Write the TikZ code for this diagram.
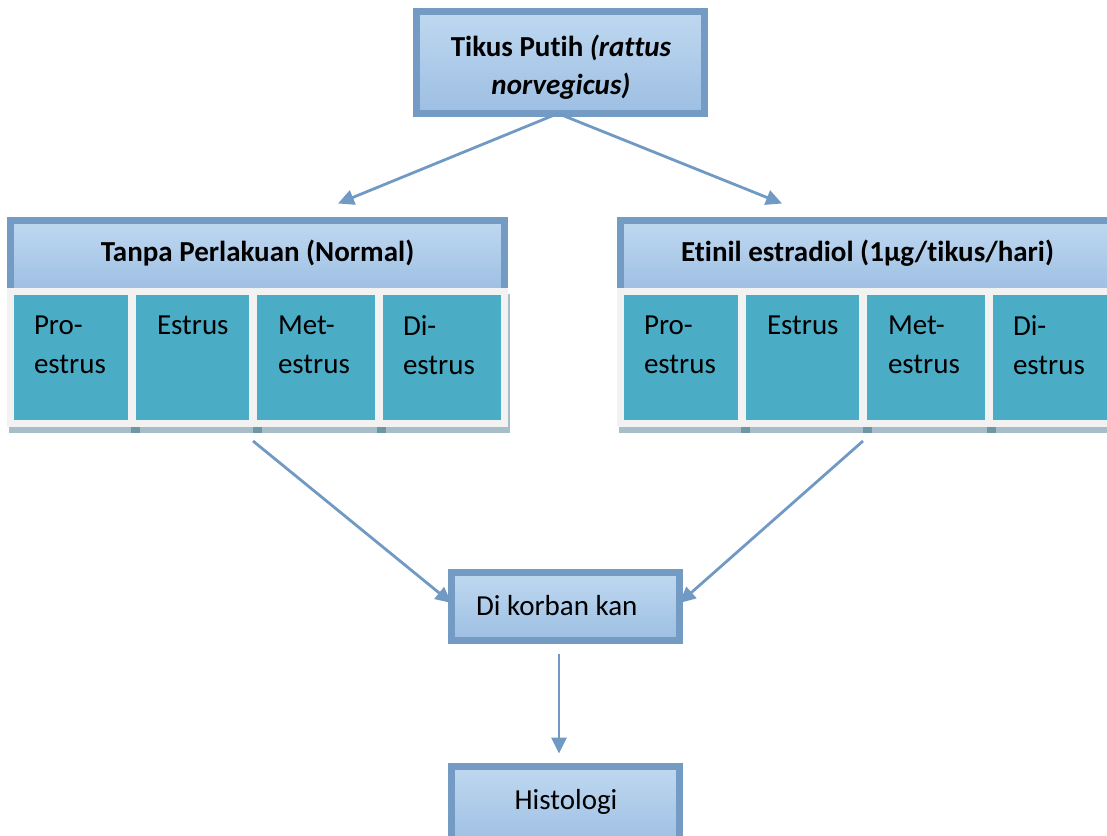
\documentclass[tikz,border=0pt]{standalone}
\usepackage{fontspec}
\setmainfont[Ligatures=NoCommon]{Carlito}
\usetikzlibrary{arrows.meta}
\definecolor{bord}{HTML}{739BC4}
\definecolor{ftop}{HTML}{BFD8F0}
\definecolor{fbot}{HTML}{9DBFE3}
\definecolor{cellc}{HTML}{4BACC6}
\definecolor{panelc}{HTML}{F2F2F2}
\definecolor{shadc}{HTML}{A7BEC8}
\definecolor{spotc}{HTML}{6E97A6}
\definecolor{arrc}{HTML}{7099C4}
\begin{document}
\begin{tikzpicture}[x=1pt,y=-1pt,
  bluebox/.style={draw=bord,line width=7pt,top color=ftop,bottom color=fbot,rectangle,inner sep=0pt,outer sep=0pt},
  panelbox/.style={fill=panelc,draw=none,rectangle,inner sep=0pt,outer sep=0pt},
  cellbox/.style={fill=cellc,draw=none,rectangle,inner sep=0pt,outer sep=0pt},
  txt/.style={inner sep=0pt,outer sep=0pt,font=\fontsize{29}{38.5}\selectfont},
  celltxt/.style={txt,align=left,anchor=north west},
  arrow/.style={draw=arrc,line width=2.8pt,-{Triangle[length=16pt,width=15pt]}}
]
\useasboundingbox (0,0) rectangle (1107,835);
\clip (0,0) rectangle (1107,835);

% top box
\node[bluebox,minimum width=288pt,minimum height=102pt] (top) at (560.5,62.5) {};
\node[txt,align=center] (toptxt) at (561,67) {\textbf{Tikus Putih \textit{(rattus}}\\\textbf{\textit{norvegicus)}}};

% left group
\node[rectangle,fill=shadc,minimum width=501pt,minimum height=139pt,inner sep=0pt] (lshad) at (259.5,363.5) {};
\node[bluebox,minimum width=494pt,minimum height=71.5pt] (lhead) at (257.5,256.25) {};
\node[panelbox,minimum width=501pt,minimum height=139pt] (lpanel) at (257.5,357.5) {};
\fill[spotc] (131,427) rectangle (140,433);
\fill[spotc] (253,427) rectangle (262,433);
\fill[spotc] (377,427) rectangle (386,433);
\node[txt] (lheadtxt) at (257.5,253) {\textbf{Tanpa Perlakuan (Normal)}};
\node[cellbox,minimum width=114pt,minimum height=125pt] (l1) at (71,357.5) {};
\node[cellbox,minimum width=113pt,minimum height=125pt] (l2) at (192.5,357.5) {};
\node[cellbox,minimum width=118pt,minimum height=125pt] (l3) at (316,357.5) {};
\node[cellbox,minimum width=118pt,minimum height=125pt] (l4) at (442,357.5) {};
\node[celltxt] (l1t) at (34,316) {Pro-\\estrus};
\node[celltxt] (l2t) at (157,316) {Estrus};
\node[celltxt] (l3t) at (278,316) {Met-\\estrus};
\node[celltxt] (l4t) at (403,316) {Di-\\estrus};

% right group
\node[rectangle,fill=shadc,minimum width=501pt,minimum height=139pt,inner sep=0pt] (rshad) at (869.5,363.5) {};
\node[bluebox,minimum width=494pt,minimum height=71.5pt] (rhead) at (867.5,256.25) {};
\node[panelbox,minimum width=501pt,minimum height=139pt] (rpanel) at (867.5,357.5) {};
\fill[spotc] (741,427) rectangle (750,433);
\fill[spotc] (863,427) rectangle (872,433);
\fill[spotc] (987,427) rectangle (996,433);
\node[txt] (rheadtxt) at (867.5,253) {\textbf{Etinil estradiol (1µg/tikus/hari)}};
\node[cellbox,minimum width=114pt,minimum height=125pt] (r1) at (681,357.5) {};
\node[cellbox,minimum width=113pt,minimum height=125pt] (r2) at (802.5,357.5) {};
\node[cellbox,minimum width=118pt,minimum height=125pt] (r3) at (926,357.5) {};
\node[cellbox,minimum width=118pt,minimum height=125pt] (r4) at (1052,357.5) {};
\node[celltxt] (r1t) at (644,316) {Pro-\\estrus};
\node[celltxt] (r2t) at (767,316) {Estrus};
\node[celltxt] (r3t) at (888,316) {Met-\\estrus};
\node[celltxt] (r4t) at (1013,316) {Di-\\estrus};

% lower boxes
\node[bluebox,minimum width=228pt,minimum height=68pt] (dk) at (565.5,606.5) {};
\node[txt,anchor=base west] (dktxt) at (476,615) {Di korban kan};
\node[bluebox,minimum width=228pt,minimum height=80pt] (hist) at (565.5,806.5) {};
\node[txt,anchor=base] (histtxt) at (566,809) {Histologi};

% connectors
\draw[arrow] ([xshift=-2.5pt]top.south) -- ([xshift=80.5pt,yshift=17pt]lhead.north);
\draw[arrow] ([xshift=-2.5pt]top.south) -- ([xshift=-85.5pt,yshift=17pt]rhead.north);
\draw[arrow] ([xshift=-4.5pt,yshift=-14pt]lpanel.south) -- ([yshift=3.5pt]dk.west);
\draw[arrow] ([xshift=-4.5pt,yshift=-14pt]rpanel.south) -- ([yshift=3.5pt]dk.east);
\draw[arrow] ([xshift=-6.5pt,yshift=-13pt]dk.south) -- ([xshift=-6.5pt,yshift=13pt]hist.north);
\end{tikzpicture}
\end{document}
